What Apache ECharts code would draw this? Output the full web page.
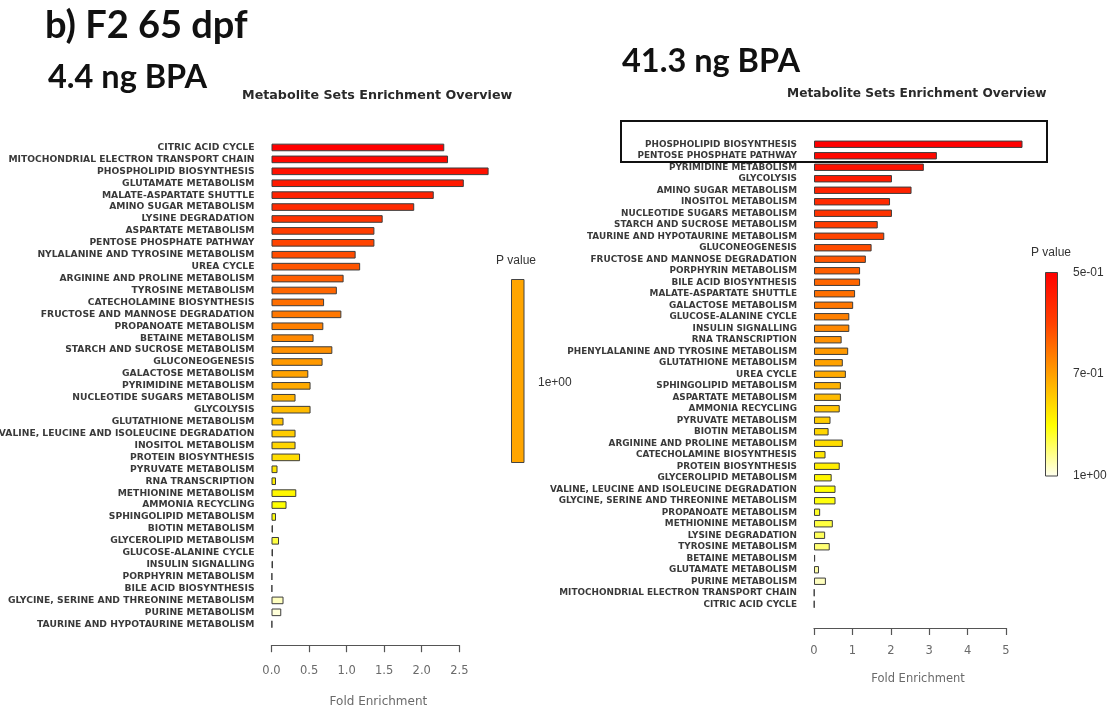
<!DOCTYPE html>
<html>
<head>
<meta charset="utf-8">
<title>F2 65 dpf – Metabolite Sets Enrichment Overview</title>
<script src="https://cdn.jsdelivr.net/npm/echarts@6/dist/echarts.min.js"></script>
<style>
  html, body { margin: 0; padding: 0; background: #ffffff; }
  #chart { width: 1111px; height: 708px; }
</style>
</head>
<body>
<div id="chart"></div>
<script>
// ---- 4.4 ng BPA: metabolite sets, ordered by P value (top = smallest) ----
const lowDoseSets = [
  'CITRIC ACID CYCLE', 'MITOCHONDRIAL ELECTRON TRANSPORT CHAIN', 'PHOSPHOLIPID BIOSYNTHESIS',
  'GLUTAMATE METABOLISM', 'MALATE-ASPARTATE SHUTTLE', 'AMINO SUGAR METABOLISM',
  'LYSINE DEGRADATION', 'ASPARTATE METABOLISM', 'PENTOSE PHOSPHATE PATHWAY',
  'NYLALANINE AND TYROSINE METABOLISM', 'UREA CYCLE', 'ARGININE AND PROLINE METABOLISM',
  'TYROSINE METABOLISM', 'CATECHOLAMINE BIOSYNTHESIS', 'FRUCTOSE AND MANNOSE DEGRADATION',
  'PROPANOATE METABOLISM', 'BETAINE METABOLISM', 'STARCH AND SUCROSE METABOLISM',
  'GLUCONEOGENESIS', 'GALACTOSE METABOLISM', 'PYRIMIDINE METABOLISM',
  'NUCLEOTIDE SUGARS METABOLISM', 'GLYCOLYSIS', 'GLUTATHIONE METABOLISM',
  'VALINE, LEUCINE AND ISOLEUCINE DEGRADATION', 'INOSITOL METABOLISM', 'PROTEIN BIOSYNTHESIS',
  'PYRUVATE METABOLISM', 'RNA TRANSCRIPTION', 'METHIONINE METABOLISM',
  'AMMONIA RECYCLING', 'SPHINGOLIPID METABOLISM', 'BIOTIN METABOLISM',
  'GLYCEROLIPID METABOLISM', 'GLUCOSE-ALANINE CYCLE', 'INSULIN SIGNALLING',
  'PORPHYRIN METABOLISM', 'BILE ACID BIOSYNTHESIS', 'GLYCINE, SERINE AND THREONINE METABOLISM',
  'PURINE METABOLISM', 'TAURINE AND HYPOTAURINE METABOLISM'
];
const lowDoseFold = [
  2.30, 2.35, 2.89, 2.56, 2.16, 1.90, 1.48, 1.37, 1.37, 1.12,
  1.18, 0.96, 0.87, 0.70, 0.93, 0.69, 0.56, 0.81, 0.68, 0.49,
  0.52, 0.32, 0.52, 0.16, 0.32, 0.32, 0.38, 0.08, 0.06, 0.33,
  0.20, 0.06, 0.02, 0.10, 0.02, 0.02, 0.01, 0.01, 0.16, 0.13,
  0.01
];

// ---- 41.3 ng BPA ----
const highDoseSets = [
  'PHOSPHOLIPID BIOSYNTHESIS', 'PENTOSE PHOSPHATE PATHWAY', 'PYRIMIDINE METABOLISM',
  'GLYCOLYSIS', 'AMINO SUGAR METABOLISM', 'INOSITOL METABOLISM',
  'NUCLEOTIDE SUGARS METABOLISM', 'STARCH AND SUCROSE METABOLISM', 'TAURINE AND HYPOTAURINE METABOLISM',
  'GLUCONEOGENESIS', 'FRUCTOSE AND MANNOSE DEGRADATION', 'PORPHYRIN METABOLISM',
  'BILE ACID BIOSYNTHESIS', 'MALATE-ASPARTATE SHUTTLE', 'GALACTOSE METABOLISM',
  'GLUCOSE-ALANINE CYCLE', 'INSULIN SIGNALLING', 'RNA TRANSCRIPTION',
  'PHENYLALANINE AND TYROSINE METABOLISM', 'GLUTATHIONE METABOLISM', 'UREA CYCLE',
  'SPHINGOLIPID METABOLISM', 'ASPARTATE METABOLISM', 'AMMONIA RECYCLING',
  'PYRUVATE METABOLISM', 'BIOTIN METABOLISM', 'ARGININE AND PROLINE METABOLISM',
  'CATECHOLAMINE BIOSYNTHESIS', 'PROTEIN BIOSYNTHESIS', 'GLYCEROLIPID METABOLISM',
  'VALINE, LEUCINE AND ISOLEUCINE DEGRADATION', 'GLYCINE, SERINE AND THREONINE METABOLISM', 'PROPANOATE METABOLISM',
  'METHIONINE METABOLISM', 'LYSINE DEGRADATION', 'TYROSINE METABOLISM',
  'BETAINE METABOLISM', 'GLUTAMATE METABOLISM', 'PURINE METABOLISM',
  'MITOCHONDRIAL ELECTRON TRANSPORT CHAIN', 'CITRIC ACID CYCLE'
];
const highDoseFold = [
  5.43, 3.20, 2.86, 2.03, 2.54, 1.98, 2.03, 1.66, 1.83, 1.50,
  1.35, 1.20, 1.20, 1.07, 1.02, 0.92, 0.92, 0.72, 0.89, 0.75,
  0.83, 0.70, 0.70, 0.67, 0.43, 0.38, 0.75, 0.30, 0.67, 0.46,
  0.56, 0.56, 0.16, 0.49, 0.29, 0.41, 0.03, 0.13, 0.31, 0.01,
  0.01
];

// Colour-bar tick labels for the P value keys
const lowDosePLabels = ['1e+00'];
const highDosePLabels = ['5e-01', '7e-01', '1e+00'];

// R-style heat palette: red -> yellow over the first 3/4, yellow -> white after
function heatColors(n) {
  const j = Math.floor(n / 4), i = n - j;
  const out = [];
  const hsv = (h, s, v) => {
    const k = (m) => (m + h * 6) % 6;
    const f = (m) => v - v * s * Math.max(0, Math.min(k(m), 4 - k(m), 1));
    const to = (x) => Math.round(x * 255).toString(16).padStart(2, '0');
    return '#' + to(f(5)) + to(f(3)) + to(f(1));
  };
  for (let a = 0; a < i; a++) out.push(hsv(i > 1 ? (a / (i - 1)) / 6 : 0, 1, 1));
  for (let b = 0; b < j; b++) {
    const s = j > 1 ? (1 - 1 / (2 * j)) - b * ((1 - 1 / j) / (j - 1)) : 0.5;
    out.push(hsv(1 / 6, s, 1));
  }
  return out;
}

const chart = echarts.init(document.getElementById('chart'), null, { renderer: 'canvas' });

const labelFont = 'DejaVu Sans';
const axisGrey = '#6a6a6a';

function catAxis(gridIndex, data, fontSize) {
  return {
    type: 'category', gridIndex, data, inverse: true,
    axisLine: { show: false }, axisTick: { show: false },
    axisLabel: {
      interval: 0, margin: 17, color: '#3a3a3a',
      fontFamily: labelFont, fontWeight: 'bold', fontSize
    }
  };
}

// nameShift: the axis title is centred on the whole plot region, which runs past the last tick
function valAxis(gridIndex, max, interval, decimals, offset, margin, nameGap, nameSize, nameShift) {
  return {
    type: 'value', gridIndex, min: 0, max, interval, offset,
    splitLine: { show: false },
    axisLine: { show: true, lineStyle: { color: '#555', width: 1.2 } },
    axisTick: { show: true, length: 7, lineStyle: { color: '#555', width: 1.2 } },
    axisLabel: {
      margin, color: axisGrey, fontFamily: 'DejaVu Sans', fontSize: 11.5,
      formatter: (v) => v.toFixed(decimals)
    },
    name: 'Fold Enrichment', nameLocation: 'middle', nameGap,
    nameTextStyle: {
      color: axisGrey, fontFamily: 'DejaVu Sans', fontSize: nameSize,
      padding: [0, 0, 0, nameShift * 2]
    }
  };
}

function barSeries(idx, values) {
  const pal = heatColors(values.length);
  return {
    type: 'bar', xAxisIndex: idx, yAxisIndex: idx, clip: false,
    barCategoryGap: '36%',
    data: values.map((v, k) => ({
      value: v,
      itemStyle: { color: pal[k] }
    })),
    itemStyle: { borderColor: '#3d3d3d', borderWidth: 1 },
    emphasis: { disabled: true },
    animation: false
  };
}

const titleFont = 'Lato';
const subtitleStyle = {
  fontFamily: 'DejaVu Sans', fontWeight: 'bold', fill: '#2a2a2a'
};

chart.setOption({
  backgroundColor: '#ffffff',
  animation: false,
  grid: [
    { left: 271.5, top: 141.5, width: 187.8, height: 488.7, containLabel: false, outerBoundsMode: 'none' },
    { left: 814, top: 138.5, width: 192, height: 471.5, containLabel: false, outerBoundsMode: 'none' }
  ],
  xAxis: [
    valAxis(0, 2.5, 0.5, 1, 15, 19.5, 51, 12, 13),
    valAxis(1, 5, 1, 0, 18, 17, 45, 11.5, 8)
  ],
  yAxis: [
    catAxis(0, lowDoseSets, 9.2),
    catAxis(1, highDoseSets, 8.9)
  ],
  series: [
    barSeries(0, lowDoseFold),
    barSeries(1, highDoseFold)
  ],
  graphic: [
    // panel headings
    { type: 'text', left: 45, top: 7, style: { text: 'b) F2 65 dpf', fontFamily: titleFont, fontWeight: 'bold', fontSize: 38, fill: '#111' } },
    { type: 'text', left: 48, top: 61, style: { text: '4.4 ng BPA', fontFamily: titleFont, fontWeight: 'bold', fontSize: 32.5, fill: '#111' } },
    { type: 'text', left: 622, top: 45, style: { text: '41.3 ng BPA', fontFamily: titleFont, fontWeight: 'bold', fontSize: 32.5, fill: '#111' } },
    { type: 'text', left: 242, top: 89, style: Object.assign({ text: 'Metabolite Sets Enrichment Overview', fontSize: 12.7 }, subtitleStyle) },
    { type: 'text', left: 787, top: 88, style: Object.assign({ text: 'Metabolite Sets Enrichment Overview', fontSize: 12.2 }, subtitleStyle) },

    // highlight around the two leading sets of the 41.3 ng panel
    { type: 'rect', shape: { x: 621, y: 121, width: 426, height: 41 }, style: { fill: 'none', stroke: '#111', lineWidth: 2 }, z: 10 },

    // P value key, 4.4 ng panel
    { type: 'text', left: 496, top: 255, style: { text: 'P value', fontFamily: 'Liberation Sans', fontSize: 12, fill: '#333' } },
    { type: 'rect', shape: { x: 511.5, y: 279.5, width: 12.5, height: 183 }, style: { fill: '#FFA500', stroke: '#444', lineWidth: 1 } },
    { type: 'text', left: 538, top: 377, style: { text: lowDosePLabels[0], fontFamily: 'Liberation Sans', fontSize: 12, fill: '#333' } },

    // P value key, 41.3 ng panel
    { type: 'text', left: 1031, top: 247, style: { text: 'P value', fontFamily: 'Liberation Sans', fontSize: 12, fill: '#333' } },
    { type: 'rect', shape: { x: 1045.5, y: 272.5, width: 12, height: 203.5 },
      style: {
        stroke: '#444', lineWidth: 1,
        fill: new echarts.graphic.LinearGradient(0, 0, 0, 1, [
          { offset: 0, color: '#FF0000' },
          { offset: 0.25, color: '#FF4000' },
          { offset: 0.5, color: '#FFA000' },
          { offset: 0.75, color: '#FFFF00' },
          { offset: 1, color: '#FFFFF2' }
        ])
      } },
    { type: 'text', left: 1073, top: 267, style: { text: highDosePLabels[0], fontFamily: 'Liberation Sans', fontSize: 12, fill: '#333' } },
    { type: 'text', left: 1073, top: 368, style: { text: highDosePLabels[1], fontFamily: 'Liberation Sans', fontSize: 12, fill: '#333' } },
    { type: 'text', left: 1073, top: 470, style: { text: highDosePLabels[2], fontFamily: 'Liberation Sans', fontSize: 12, fill: '#333' } }
  ]
});
</script>
</body>
</html>
